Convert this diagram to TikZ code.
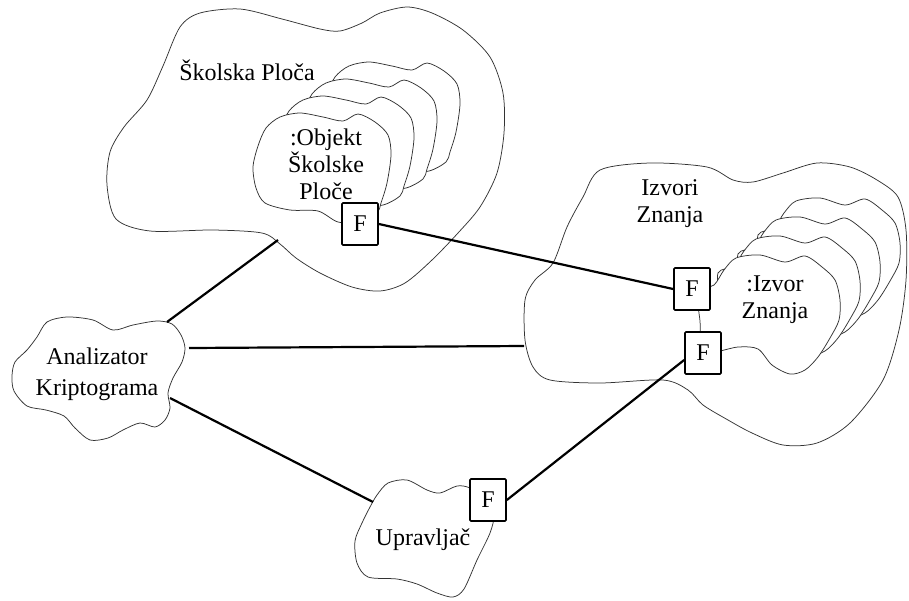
\documentclass[tikz,border=0pt]{standalone}
\usepackage{fontspec}
\setmainfont{Liberation Serif}
\usetikzlibrary{positioning}
\tikzset{%
  % thin hand drawn outline of a cloud
  cloudline/.style={draw=black!80, line width=0.75pt},
  % bold connector between clouds
  link/.style={-, line width=2.2pt},
  % small box standing for an F interface
  fbox/.style={rectangle, draw, line width=1.7pt, fill=white, rounded corners=1pt,
    minimum width=36pt, minimum height=42pt, inner sep=0pt, font=\fontsize{24}{27}\selectfont},
  % text inside a cloud
  lbl/.style={align=center, inner sep=0pt, font=\fontsize{24}{27}\selectfont}
}
% outlines of the clouds, in pixel like units
\def\skolskacloud{plot[smooth cycle] coordinates {(180,27) (200,13) (240,9) (282,19) (320,29) (340,31) (362,23) (380,13) (407,7) (432,13) (463,30) (490,57) (503,93) (504,133) (497,173) (480,207) (458,233) (432,260) (405,283) (380,291) (352,287) (320,273) (296,258) (280,244) (262,233) (213,230) (150,231) (116,219) (107,185) (110,152) (124,127) (147,100) (163,66)}}
\def\objektcloud{plot[smooth cycle] coordinates {(360,222) (338,222) (318,211) (290,210) (265,203) (256,188) (253,167) (258,146) (266,128) (280,117) (300,113) (323,117) (343,121) (358,114) (375,122) (388,135) (391,155) (387,183) (381,203) (377,213)}}
\def\izvoricloud{plot[smooth cycle] coordinates {(600,170) (650,163) (707,167) (733,180) (753,182) (783,173) (817,163) (850,167) (877,180) (898,197) (906,230) (906,280) (899,330) (883,380) (850,423) (817,443) (783,445) (752,433) (728,420) (703,405) (688,390) (663,380) (600,383) (550,380) (533,367) (525,340) (525,300) (535,280) (553,263) (567,227) (583,197)}}
\def\izvorcloud{plot[smooth cycle] coordinates {(758,349) (738,347) (704,352) (700,321) (698,292) (714,285) (724,270) (736,258) (760,255) (785,262) (805,256) (822,267) (835,280) (840,300) (839,320) (830,338) (818,357) (805,370) (790,374) (772,365)}}
\def\upravcloud{plot[smooth cycle] coordinates {(488,500) (470,488) (457,486) (440,493) (427,490) (407,480) (388,483) (377,495) (370,507) (362,523) (355,541) (357,563) (368,577) (397,579) (417,584) (437,593) (453,597) (464,589) (477,560) (490,533) (494,515)}}
\def\analizcloud{plot[smooth cycle] coordinates {(47,322) (67,317) (93,320) (113,330) (133,325) (157,321) (172,324) (181,335) (185,348) (182,362) (173,378) (168,393) (170,408) (165,420) (155,427) (140,423) (123,430) (108,438) (90,440) (75,428) (64,416) (46,410) (27,406) (14,391) (12,376) (15,362) (27,350) (37,337)}}
\begin{document}
\begin{tikzpicture}[x=1pt, y=-1pt]
  \useasboundingbox (0,0) rectangle (909,600);

  % outer clouds
  \draw[cloudline] \skolskacloud;
  \draw[cloudline] \izvoricloud;
  \draw[cloudline] \upravcloud;
  \draw[cloudline] \analizcloud;

  % stacked objects, back to front
  \foreach \k in {3,2,1} {
    \draw[cloudline, fill=white, shift={({23*\k},{-17*\k})}] \objektcloud;
    \draw[cloudline, fill=white, shift={({20*\k},{-19*\k})}] \izvorcloud;
  }
  \draw[cloudline, fill=white] \objektcloud;
  \draw[cloudline, fill=white] \izvorcloud;

  % labels
  \node[lbl] (skolska) at (247,70) {Školska Ploča};
  \node[lbl] (objekt) at (326,164) {:Objekt\\Školske\\Ploče};
  \node[lbl] (izvori) at (670,204) {Izvori\\Znanja};
  \node[lbl] (izvor) at (775,300) {:Izvor\\Znanja};
  \node[lbl] (analiz) at (97,374) {Analizator\\[4pt]Kriptograma};
  \node[lbl] (uprav) at (423,540) {Upravljač};

  % ends of the connectors on the cloud outlines
  \coordinate (anTop) at (167,322);
  \coordinate (anMid) at (189,348);
  \coordinate (anLow) at (170,398);
  \coordinate (skEdge) at (278,240);
  \coordinate (izEdge) at (524,346);
  \coordinate (upEdge) at (373,502);

  % F boxes
  \node[fbox] (fA) at (360,224) {F};
  \node[fbox] (fB1) at (692,289) {F};
  \node[fbox] (fB2) at (703,353) {F};
  \node[fbox] (fU) at (488,500) {F};

  % connectors
  \draw[link] (anTop) -- (skEdge);
  \draw[link] (anMid) -- (izEdge);
  \draw[link] (anLow) -- (upEdge);
  \draw[link] (fA.east) -- (fB1.west);
  \draw[link] (fU.east) -- ([yshift=-7pt]fB2.west);
\end{tikzpicture}
\end{document}
